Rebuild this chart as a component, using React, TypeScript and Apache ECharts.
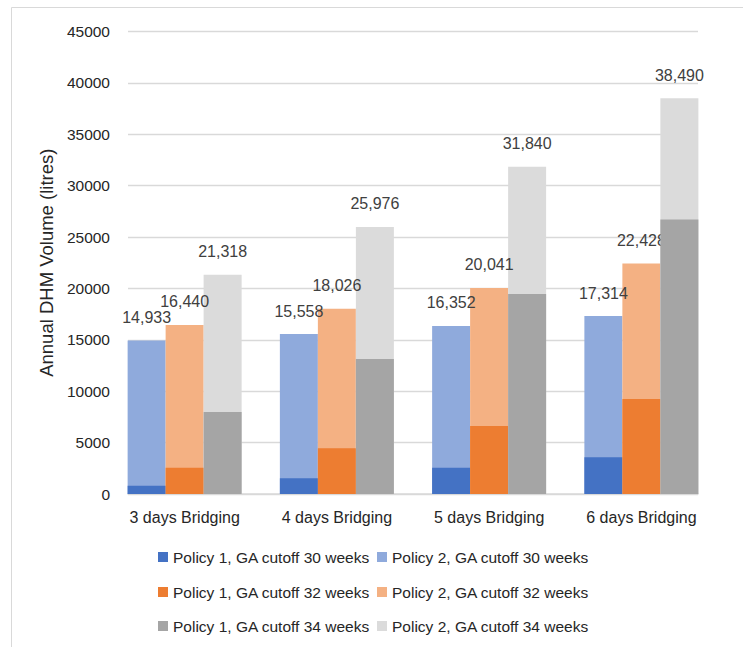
import React, { useEffect, useRef } from "react";
import * as echarts from "echarts";

const categories = ["3 days Bridging", "4 days Bridging", "5 days Bridging", "6 days Bridging"];

const policy1Cut30 = [810, 1525, 2550, 3570];
const policy1Cut32 = [2560, 4450, 6620, 9250];
const policy1Cut34 = [7980, 13130, 19450, 26700];

const policy2Cut30 = [14933, 15558, 16352, 17314];
const policy2Cut32 = [16440, 18026, 20041, 22428];
const policy2Cut34 = [21318, 25976, 31840, 38490];

const seriesNames = [
  "Policy 1, GA cutoff 30 weeks",
  "Policy 2, GA cutoff 30 weeks",
  "Policy 1, GA cutoff 32 weeks",
  "Policy 2, GA cutoff 32 weeks",
  "Policy 1, GA cutoff 34 weeks",
  "Policy 2, GA cutoff 34 weeks",
];

const colors = ["#4472C4", "#8FAADC", "#ED7D31", "#F4B183", "#A5A5A5", "#DBDBDB"];

const FONT = "Liberation Sans";
const TEXT = "#262626";

export default function App() {
  const ref = useRef<HTMLDivElement>(null);

  useEffect(() => {
    if (!ref.current) return;
    const chart = echarts.init(ref.current, null, { renderer: "svg" });

    const policy2Label = {
      show: true,
      position: "top",
      distance: 15,
      color: "#404040",
      fontFamily: FONT,
      fontSize: 16,
      formatter: (p: any) => Number(p.value).toLocaleString("en-US"),
    };

    const back = (i: number, data: number[]) => ({
      name: seriesNames[i],
      type: "bar",
      xAxisIndex: 2,
      yAxisIndex: 1,
      data,
      barWidth: 38,
      barGap: "0%",
      itemStyle: { color: colors[i] },
      label: policy2Label,
      z: 2,
    });
    const front = (i: number, data: number[]) => ({
      name: seriesNames[i],
      type: "bar",
      xAxisIndex: 1,
      yAxisIndex: 1,
      data,
      barWidth: 38,
      barGap: "0%",
      itemStyle: { color: colors[i] },
      z: 3,
    });

    const legendLeft = [153, 372];
    const legendTop = [544, 579, 613];

    chart.setOption({
      animation: false,
      textStyle: { fontFamily: FONT },
      color: colors,
      graphic: [
        {
          type: "rect",
          shape: { x: 11.5, y: 7.5, width: 800, height: 700 },
          style: { fill: "none", stroke: "#D9D9D9", lineWidth: 1 },
          silent: true,
        },
      ],
      legend: seriesNames.map((name, i) => ({
        data: [name],
        left: legendLeft[i % 2],
        top: legendTop[Math.floor(i / 2)],
        itemWidth: 10,
        itemHeight: 10,
        icon: "rect",
        textStyle: { color: TEXT, fontFamily: FONT, fontSize: 15.5 },
      })),
      grid: [
        { left: 128, right: 45, top: 31.4, bottom: 153 },
        { left: 108.5, right: 25.5, top: 31.4, bottom: 153 },
      ],
      xAxis: [
        {
          type: "category",
          gridIndex: 0,
          data: categories,
          axisLine: { show: true, lineStyle: { color: "#D9D9D9", width: 1.5 } },
          axisTick: { show: false },
          axisLabel: { show: false },
        },
        {
          type: "category",
          gridIndex: 1,
          data: categories,
          axisLine: { show: false },
          axisTick: { show: false },
          axisLabel: { color: TEXT, fontFamily: FONT, fontSize: 16, margin: 15 },
        },
        {
          type: "category",
          gridIndex: 1,
          data: categories,
          show: false,
        },
      ],
      yAxis: [
        {
          type: "value",
          gridIndex: 0,
          min: 0,
          max: 45000,
          interval: 5000,
          name: "Annual DHM Volume (litres)",
          nameLocation: "middle",
          nameRotate: 90,
          nameGap: 72,
          nameTextStyle: { color: TEXT, fontFamily: FONT, fontSize: 18.5 },
          axisLine: { show: false },
          axisTick: { show: false },
          axisLabel: {
            color: TEXT,
            fontFamily: FONT,
            fontSize: 15.5,
            margin: 18,
            formatter: (v: number) => String(v),
          },
          splitLine: { lineStyle: { color: "#D9D9D9", width: 1.3 } },
        },
        {
          type: "value",
          gridIndex: 1,
          min: 0,
          max: 45000,
          interval: 5000,
          show: false,
          splitLine: { show: false },
        },
      ],
      series: [
        back(1, policy2Cut30),
        back(3, policy2Cut32),
        back(5, policy2Cut34),
        front(0, policy1Cut30),
        front(2, policy1Cut32),
        front(4, policy1Cut34),
      ],
    });

    return () => chart.dispose();
  }, []);

  return (
    <div
      ref={ref}
      style={{ position: "fixed", left: 0, top: 0, width: 743, height: 647, background: "#fff" }}
    />
  );
}
